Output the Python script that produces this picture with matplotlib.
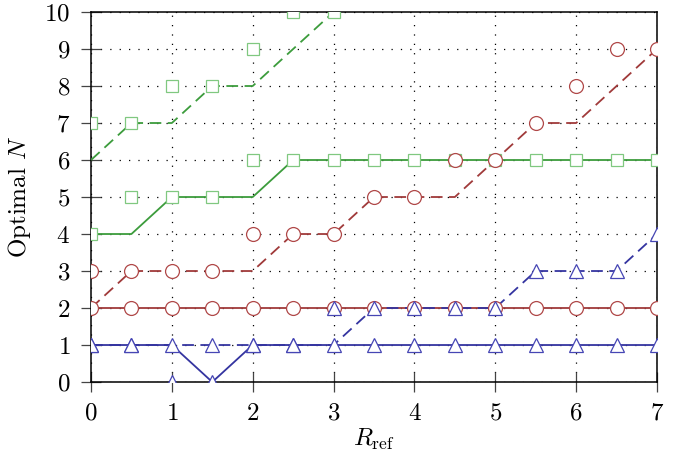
import numpy as np
import matplotlib
matplotlib.use('Agg')
import matplotlib.pyplot as plt

plt.rcParams['font.family'] = 'serif'
plt.rcParams['font.serif'] = ['cmr10']
plt.rcParams['mathtext.fontset'] = 'cm'
plt.rcParams['axes.formatter.use_mathtext'] = True

r_ref = [0, 0.5, 1, 1.5, 2, 2.5, 3, 3.5, 4, 4.5, 5, 5.5, 6, 6.5, 7]

# curves
green_solid = [4, 4, 5, 5, 5, 6, 6, 6, 6, 6, 6, 6, 6, 6, 6]
green_dashed = [6, 7, 7, 8, 8, 9, 10, 11]
red_solid = [2, 2, 2, 2, 2, 2, 2, 2, 2, 2, 2, 2, 2, 2, 2]
red_dashed = [2, 3, 3, 3, 3, 4, 4, 5, 5, 5, 6, 7, 7, 8, 9]
blue_solid = [1, 1, 1, 0, 1, 1, 1, 1, 1, 1, 1, 1, 1, 1, 1]
blue_dashed = [1, 1, 1, 1, 1, 1, 1, 2, 2, 2, 2, 3, 3, 3, 4]

# markers (discrete optimum)
green_solid_pts = [4, 5, 5, 5, 6, 6, 6, 6, 6, 6, 6, 6, 6, 6, 6]
green_dashed_pts = [7, 7, 8, 8, 9, 10, 10, 11]
red_solid_pts = [2, 2, 2, 2, 2, 2, 2, 2, 2, 2, 2, 2, 2, 2, 2]
red_dashed_pts = [3, 3, 3, 3, 4, 4, 4, 5, 5, 6, 6, 7, 8, 9, 9]
blue_solid_pts = [1, 1, 0, 0, 1, 1, 1, 1, 1, 1, 1, 1, 1, 1, 1]
blue_dashed_pts = [1, 1, 1, 1, 1, 1, 2, 2, 2, 2, 2, 3, 3, 3, 4]

green = '#3c9c3c'
green_m = '#80c880'
red = '#a03a3a'
red_m = '#b04848'
blue = '#3434a0'
blue_m = '#4646b4'

dash = (0, (6.5, 3.6))

fig = plt.figure(figsize=(6.76, 4.53), dpi=100)
ax = fig.add_axes([0.1346, 0.1567, 0.8373, 0.8168])

x = np.array(r_ref)
ax.plot(x, green_solid, color=green, lw=1.3, zorder=3)
ax.plot(x[:len(green_dashed)], green_dashed, color=green, lw=1.3, linestyle=dash, zorder=3)
ax.plot(x, red_solid, color=red, lw=1.3, zorder=3)
ax.plot(x, red_dashed, color=red, lw=1.3, linestyle=dash, zorder=3)
ax.plot(x, blue_solid, color=blue, lw=1.3, zorder=3)
ax.plot(x, blue_dashed, color=blue, lw=1.3, linestyle=dash, zorder=3)

mk = dict(linestyle='none', markerfacecolor='white', markeredgewidth=0.9, zorder=4)
ax.plot(x, green_solid_pts, marker='s', ms=9, markeredgecolor=green_m, **mk)
ax.plot(x[:len(green_dashed_pts)], green_dashed_pts, marker='s', ms=9, markeredgecolor=green_m, **mk)
ax.plot(x, red_solid_pts, marker='o', ms=10, markeredgecolor=red_m, **mk)
ax.plot(x, red_dashed_pts, marker='o', ms=10, markeredgecolor=red_m, **mk)
ax.plot(x, blue_solid_pts, marker='^', ms=10, markeredgecolor=blue_m, **mk)
ax.plot(x, blue_dashed_pts, marker='^', ms=10, markeredgecolor=blue_m, **mk)

ax.set_xlim(0, 7)
ax.set_ylim(0, 10)
ax.set_xticks(range(0, 8))
ax.set_yticks(range(0, 11))
ax.grid(True, color='k', linestyle=(0, (1, 6.5)), lw=0.9)
ax.set_axisbelow(True)
ax.tick_params(direction='inout', length=14, width=0.9, color='#444444', labelsize=18)
ax.tick_params(axis='x', pad=8)
ax.tick_params(axis='y', pad=8)
for s in ax.spines.values():
    s.set_linewidth(1.1)

ax.set_xlabel(r'$R_{\mathrm{ref}}$', fontsize=18)
ax.set_ylabel(r'Optimal $N$', fontsize=18)
ax.xaxis.set_label_coords(0.5, -0.12)
ax.yaxis.set_label_coords(-0.1025, 0.5)

fig.savefig('out.png', dpi=100)
